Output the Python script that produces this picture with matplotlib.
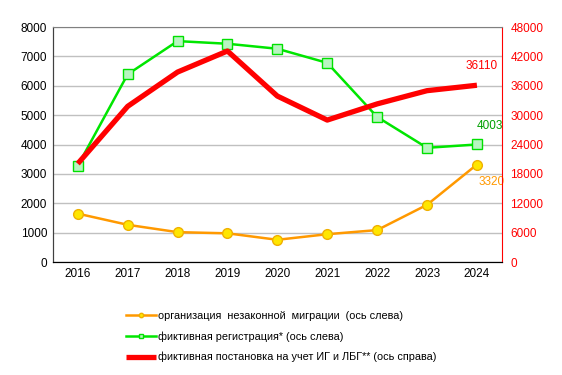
import matplotlib.pyplot as plt

plt.rcParams['font.family'] = ['Liberation Sans', 'DejaVu Sans']

years = ['2016', '2017', '2018', '2019', '2020', '2021', '2022', '2023', '2024']
migration = [1650, 1270, 1020, 980, 760, 950, 1090, 1950, 3320]
registration = [3280, 6390, 7520, 7430, 7260, 6780, 4940, 3890, 4003]
fictitious_reg = [20100, 31800, 38800, 43100, 33900, 29000, 32300, 35000, 36110]

labels = ['организация  незаконной  миграции  (ось слева)',
          'фиктивная регистрация* (ось слева)',
          'фиктивная постановка на учет ИГ и ЛБГ** (ось справа)']

fig = plt.figure(figsize=(5.62, 3.75), dpi=100)
ax = fig.add_axes([0.094, 0.301, 0.799, 0.627])
ax2 = ax.twinx()

x = list(range(len(years)))

l1, = ax.plot(x, migration, color='#ff9900', lw=1.8, marker='o', ms=7,
              mfc='#ffe600', mec='#f0b000', zorder=3)
l2, = ax.plot(x, registration, color='#00e600', lw=1.8, marker='s', ms=7,
              mfc='#b8f5c0', mec='#00e000', zorder=3)
l3, = ax2.plot(x, fictitious_reg, color='#ff0000', lw=3.8, solid_capstyle='butt')

ax.set_xlim(-0.5, len(years) - 0.5)
ax.set_ylim(0, 8000)
ax2.set_ylim(0, 48000)
ax.set_yticks(range(0, 8001, 1000))
ax2.set_yticks(range(0, 48001, 6000))
ax.set_xticks(x)
ax.set_xticklabels(years)

ax.yaxis.grid(True, color='#c0c0c0', lw=1)
ax.set_axisbelow(True)

ax.tick_params(axis='both', length=0, labelsize=8.5, pad=4)
ax2.tick_params(axis='y', length=0, labelsize=8.5, labelcolor='#ff0000', pad=6)

for s in ['top', 'right']:
    ax.spines[s].set_visible(False)
ax2.spines['top'].set_color('#808080')
ax2.spines['right'].set_color('#ff0000')
ax2.spines['left'].set_color('#404040')
ax2.spines['bottom'].set_color('#000000')
ax.spines['left'].set_color('#404040')
ax.spines['bottom'].set_color('#000000')

ax2.annotate(str(fictitious_reg[-1]), (x[-1], fictitious_reg[-1]), xytext=(-8, 12),
             textcoords='offset points', color='#ff0000', fontsize=8.5)
ax.annotate(str(registration[-1]), (x[-1], registration[-1]), xytext=(0, 11),
            textcoords='offset points', color='#00a000', fontsize=8.5)
ax.annotate(str(migration[-1]), (x[-1], migration[-1]), xytext=(1, -15),
            textcoords='offset points', color='#ff9900', fontsize=8.5)

fig.legend([l1, l2, l3], labels, loc='upper left', bbox_to_anchor=(0.207, 0.197),
           bbox_transform=fig.transFigure, frameon=False, fontsize=7.8,
           handlelength=2.8, handletextpad=0.1, labelspacing=0.95, markerscale=0.45)

fig.savefig('out.png', dpi=100)
